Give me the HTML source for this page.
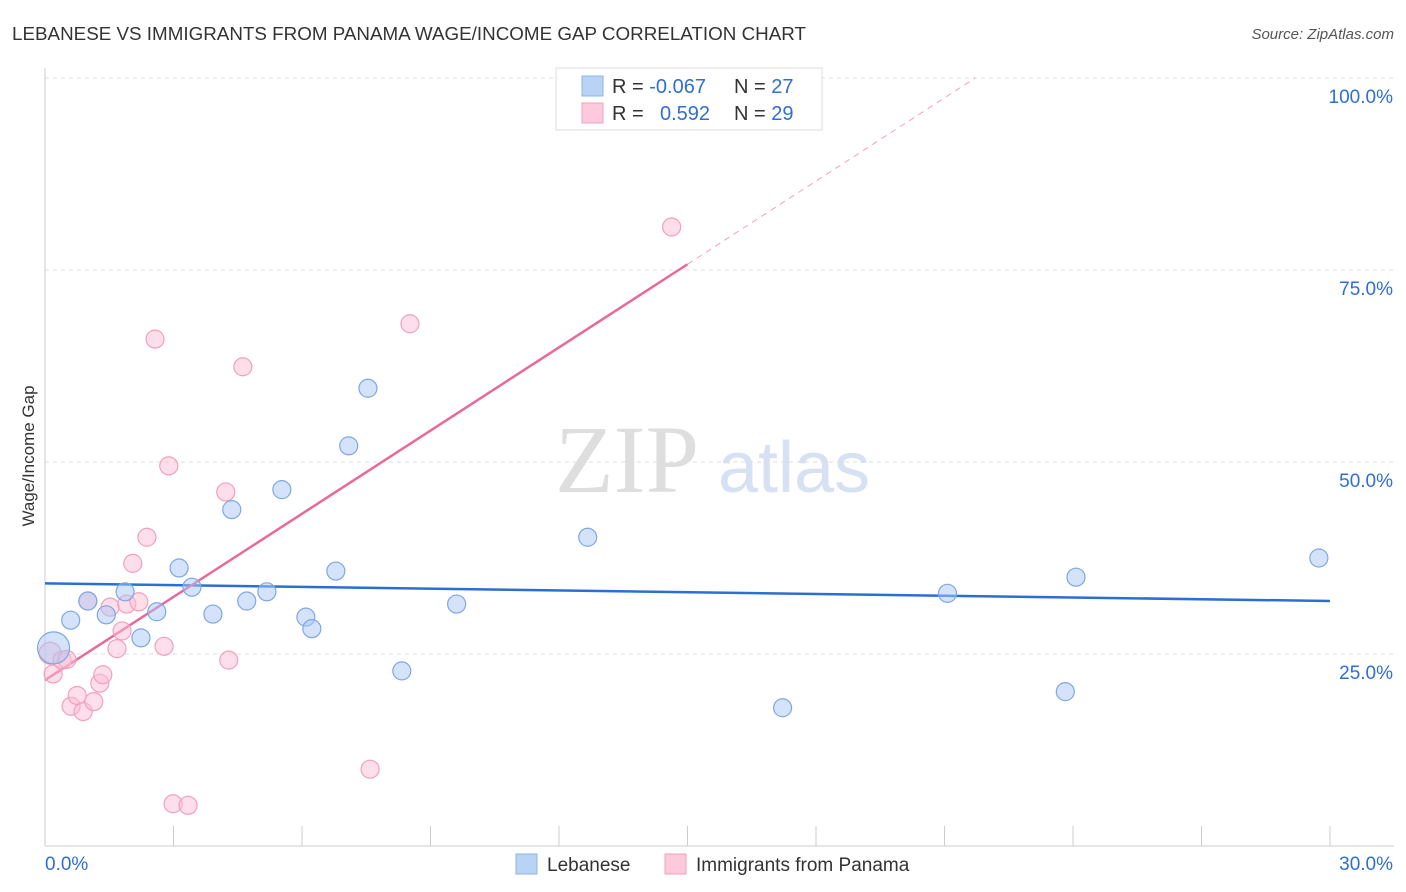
<!DOCTYPE html>
<html><head><meta charset="utf-8"><style>
body{margin:0;background:#fff;font-family:"Liberation Sans",sans-serif;}
svg{display:block}
</style></head><body>
<svg id="c" width="1406" height="892" xmlns="http://www.w3.org/2000/svg">
<text x="12" y="40" font-size="18" fill="#333" textLength="794" lengthAdjust="spacingAndGlyphs">LEBANESE VS IMMIGRANTS FROM PANAMA WAGE/INCOME GAP CORRELATION CHART</text>
<text x="1394" y="39" font-size="15" fill="#555" font-style="italic" text-anchor="end">Source: ZipAtlas.com</text>
<text x="555" y="492" font-size="96" fill="#dedede" font-family="Liberation Serif,serif">ZIP</text>
<text x="718" y="492" font-size="72" fill="#d6e2f3">atlas</text>
<text transform="translate(34,456) rotate(-90)" font-size="17" fill="#333" text-anchor="middle">Wage/Income Gap</text>
<g id="grid"></g><g id="ticks"></g><g id="lines"></g><g id="pts"></g>
<g>
<rect x="556" y="68" width="266" height="62" fill="#fff" stroke="#ddd"/>
<rect x="582" y="76" width="21" height="20" fill="#b9d3f5" stroke="#8fb4e8"/>
<rect x="582" y="103" width="21" height="20" fill="#fccadb" stroke="#f0a0bd"/>
<text x="612" y="93" font-size="20" fill="#333">R = <tspan fill="#2f6fd0">-0.067</tspan><tspan x="734">N = </tspan><tspan fill="#2f6fd0">27</tspan></text>
<text x="612" y="120" font-size="20" fill="#333">R = <tspan x="660" fill="#2f6fd0">0.592</tspan><tspan x="734">N = </tspan><tspan fill="#2f6fd0">29</tspan></text>
</g>
<g>
<rect x="516" y="854" width="21" height="20" fill="#b9d3f5" stroke="#8fb4e8"/>
<text x="547" y="871" font-size="19" fill="#333">Lebanese</text>
<rect x="665" y="854" width="21" height="20" fill="#fccadb" stroke="#f0a0bd"/>
<text x="696" y="871" font-size="19" fill="#333">Immigrants from Panama</text>
</g>
</svg>
<script>
const blueX=[0.2,0.6,1.0,1.43,1.87,2.24,2.61,3.13,3.43,3.92,4.36,4.71,5.18,5.53,6.09,6.23,6.79,7.09,7.54,8.33,9.61,12.67,17.22,21.07,23.82,24.07,29.74];
const blueY=[25.8,29.4,31.9,30.1,33.1,27.1,30.5,36.2,33.7,30.2,43.8,31.9,33.1,46.4,29.8,28.3,35.8,52.1,59.6,22.8,31.5,40.2,18.0,32.9,20.1,35.0,37.5];
const pinkX=[0.12,0.19,0.4,0.51,0.61,0.75,0.89,1.0,1.14,1.28,1.35,1.52,1.68,1.8,1.91,2.05,2.19,2.38,2.57,2.78,2.89,2.99,3.34,4.22,4.29,4.62,7.59,8.52,14.63];
const pinkY=[25.1,22.4,24.2,24.3,18.2,19.6,17.5,31.9,18.8,21.2,22.3,31.1,25.7,28.0,31.5,36.8,31.8,40.2,66.0,26.0,49.5,5.5,5.3,46.1,24.2,62.4,10.0,68.0,80.6];
const xTicks=[0,30], yTicks=[25,50,75,100];
const blueFit=[34.2,31.9], pinkFit=[21.6,3.61];
const X=v=>45+v*1285/30, Y=v=>846-v*7.68;
const ns="http://www.w3.org/2000/svg";
function mk(p,t,a){const e=document.createElementNS(ns,t);for(const k in a)e.setAttribute(k,a[k]);document.getElementById(p).appendChild(e);return e;}
yTicks.forEach(t=>{
 const l=mk('grid','line',{x1:45,x2:1394,y1:Y(t),y2:Y(t),stroke:'#ddd','stroke-dasharray':'4,4'});
 
 
 const tx=mk('ticks','text',{x:1393,y:Y(t)+25,'font-size':19,fill:'#2f6fd0','text-anchor':'end'});tx.textContent=t.toFixed(1)+'%';
 
 
});
mk('grid','line',{x1:45,x2:45,y1:68,y2:846,stroke:'#ccc'});
mk('grid','line',{x1:45,x2:1394,y1:846,y2:846,stroke:'#ccc'});
for(let i=1;i<=10;i++){mk('grid','line',{x1:X(i*3),x2:X(i*3),y1:826,y2:846,stroke:'#ccc'});}
xTicks.forEach((t,i)=>{const tx=mk('ticks','text',{x:i?1393:45,y:870,'font-size':19,fill:'#2f6fd0','text-anchor':i?'end':'start'});tx.textContent=t.toFixed(1)+'%';
 
 });
let bl=mk('lines','line',{x1:X(0),y1:Y(blueFit[0]),x2:X(30),y2:Y(blueFit[1]),stroke:'#2a6fd4','stroke-width':2.5});


const pe=(100-pinkFit[0])/pinkFit[1];
let pl=mk('lines','line',{x1:X(0),y1:Y(pinkFit[0]),x2:X(15),y2:Y(pinkFit[0]+15*pinkFit[1]),stroke:'#e8699a','stroke-width':2.5});


let pd=mk('lines','line',{x1:X(15),y1:Y(pinkFit[0]+15*pinkFit[1]),x2:X(pe),y2:Y(100),stroke:'#f0a0bd','stroke-width':1,'stroke-dasharray':'6,5'});


pinkX.forEach((x,i)=>{const c=mk('pts','circle',{cx:X(x),cy:Y(pinkY[i]),r:i==0?11:9,fill:'rgba(252,190,212,0.5)',stroke:'#f0a0bd','stroke-width':1.2});
 
 });
blueX.forEach((x,i)=>{const c=mk('pts','circle',{cx:X(x),cy:Y(blueY[i]),r:i==0?16:9,fill:'rgba(170,200,245,0.5)',stroke:'#7ea7e3','stroke-width':1.2});
 
 });
</script>
</body></html>
